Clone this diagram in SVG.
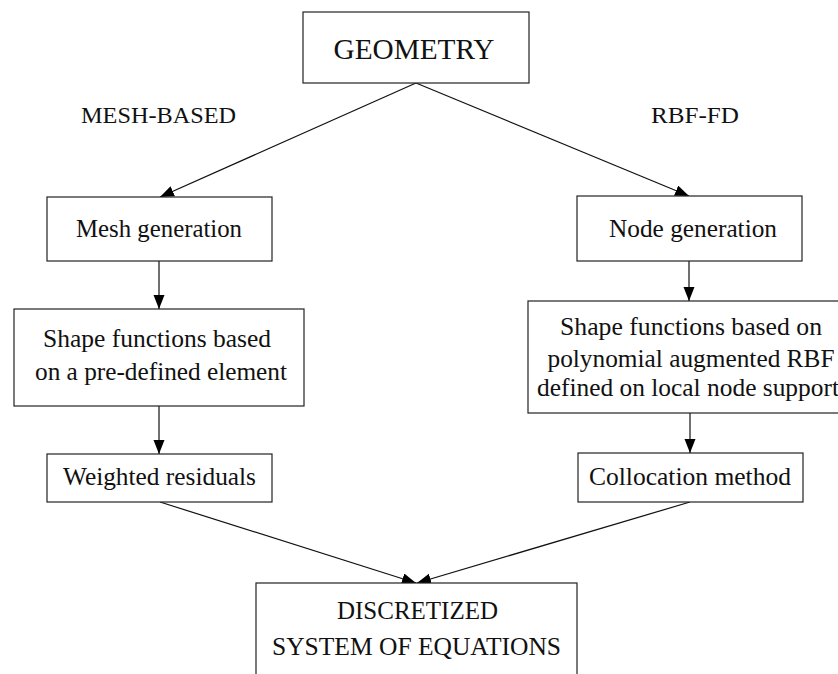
<svg xmlns="http://www.w3.org/2000/svg" width="838" height="674" viewBox="0 0 838 674">
<style>
.box{fill:#fff;stroke:#222;stroke-width:1.2}
.t{font-family:"Liberation Serif","DejaVu Serif",serif;font-size:24.5px;fill:#111;text-anchor:middle}
.lab{font-size:23px}
.big{font-size:29px}
.c{stroke:#111;stroke-width:1.2;fill:none;marker-end:url(#ah)}
</style>
<defs>
<marker id="ah" markerUnits="userSpaceOnUse" markerWidth="15" markerHeight="12" refX="14" refY="5.5" orient="auto">
<path d="M0,0 L14,5.5 L0,11 z" fill="#000"/>
</marker>
</defs>
<g id="connectors">
<line class="c" x1="416" y1="83" x2="160" y2="197"/>
<line class="c" x1="416" y1="83" x2="689" y2="196"/>
<line class="c" x1="159" y1="261" x2="159" y2="309"/>
<line class="c" x1="159" y1="406" x2="159" y2="454"/>
<line class="c" x1="689" y1="261" x2="689" y2="301"/>
<line class="c" x1="690" y1="413" x2="690" y2="453"/>
<line class="c" x1="160" y1="502" x2="416" y2="583"/>
<line class="c" x1="690" y1="502" x2="417" y2="583"/>
</g>
<g id="geometry">
<rect class="box" x="303" y="12" width="226" height="71"/>
<text class="t big" x="414" y="59" textLength="161" lengthAdjust="spacingAndGlyphs">GEOMETRY</text>
</g>
<g id="label-mesh">
<text class="t lab" x="158.5" y="123" textLength="155" lengthAdjust="spacingAndGlyphs">MESH-BASED</text>
</g>
<g id="label-rbf">
<text class="t lab" x="695" y="123" textLength="88" lengthAdjust="spacingAndGlyphs">RBF-FD</text>
</g>
<g id="mesh-generation">
<rect class="box" x="47" y="197" width="225" height="64"/>
<text class="t" x="159" y="237" textLength="166" lengthAdjust="spacingAndGlyphs">Mesh generation</text>
</g>
<g id="node-generation">
<rect class="box" x="577" y="196" width="225" height="65"/>
<text class="t" x="693" y="237" textLength="168" lengthAdjust="spacingAndGlyphs">Node generation</text>
</g>
<g id="shape-mesh">
<rect class="box" x="14" y="309" width="290" height="97"/>
<text class="t" x="157" y="347" textLength="228" lengthAdjust="spacingAndGlyphs">Shape functions based</text>
<text class="t" x="161" y="380" textLength="252" lengthAdjust="spacingAndGlyphs">on a pre-defined element</text>
</g>
<g id="shape-rbf">
<rect class="box" x="528" y="301" width="340" height="112"/>
<text class="t" x="691" y="335" textLength="262" lengthAdjust="spacingAndGlyphs">Shape functions based on</text>
<text class="t" x="691" y="367" textLength="287" lengthAdjust="spacingAndGlyphs">polynomial augmented RBF</text>
<text class="t" x="688" y="396" textLength="302" lengthAdjust="spacingAndGlyphs">defined on local node support</text>
</g>
<g id="weighted-residuals">
<rect class="box" x="47" y="454" width="225" height="48"/>
<text class="t" x="159.5" y="485" textLength="193" lengthAdjust="spacingAndGlyphs">Weighted residuals</text>
</g>
<g id="collocation">
<rect class="box" x="578" y="453" width="225" height="49"/>
<text class="t" x="690" y="485" textLength="202" lengthAdjust="spacingAndGlyphs">Collocation method</text>
</g>
<g id="discretized">
<rect class="box" x="256" y="583" width="321" height="120"/>
<text class="t" x="417.5" y="619" textLength="161" lengthAdjust="spacingAndGlyphs">DISCRETIZED</text>
<text class="t" x="416.5" y="655" textLength="289" lengthAdjust="spacingAndGlyphs">SYSTEM OF EQUATIONS</text>
</g>
</svg>
